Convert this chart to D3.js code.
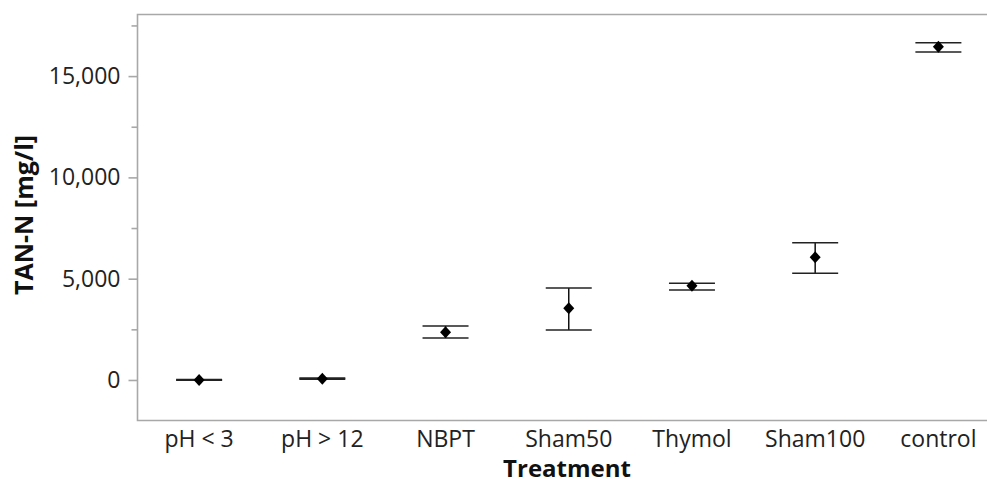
<!DOCTYPE html>
<html>
<head>
<meta charset="utf-8">
<script src="https://cdn.jsdelivr.net/npm/d3@7"></script>
<style>
  html, body { margin: 0; padding: 0; background: #fff; }
  svg { display: block; font-family: "Open Sans", "Noto Sans", sans-serif; }
</style>
</head>
<body>
<svg id="chart" width="987" height="484"></svg>
<script>
// values (TAN-N, mg/l)
const treatments = ['pH < 3', 'pH > 12', 'NBPT', 'Sham50', 'Thymol', 'Sham100', 'control'];
const means = [5, 60, 2354, 3539, 4655, 6056, 16451];
const lower = [-10, 35, 2073, 2468, 4442, 5266, 16190];
const upper = [20, 90, 2665, 4541, 4773, 6777, 16649];
const yTicks = [0, 5000, 10000, 15000];
const yMinorTicks = [2500, 7500, 12500, 17500];

const m = {left: 137.5, top: 14.5, bottom: 420.5, right: 1000};
const svg = d3.select('#chart');

const x = d3.scaleBand().domain(treatments).range([m.left, m.right]).padding(0);
const y = d3.scaleLinear().domain([-2000, 18040]).range([m.bottom, m.top]);

const frame = '#a8a8a8';
const fmt = d3.format(',');

// frame (top, left, bottom; right side is cut off by the picture)
svg.append('path')
  .attr('d', `M${m.right},${m.top}H${m.left}V${m.bottom}H${m.right}`)
  .attr('fill', 'none')
  .attr('stroke', frame)
  .attr('stroke-width', 1.6);

// y axis
const yAxis = svg.append('g').attr('transform', `translate(${m.left},0)`)
  .call(d3.axisLeft(y).tickValues(yTicks).tickFormat(fmt).tickSize(9).tickPadding(8));
yAxis.select('.domain').remove();
yAxis.selectAll('line').attr('stroke', frame).attr('stroke-width', 1.6);
yAxis.selectAll('text').attr('font-size', 23).attr('fill', '#222').attr('font-family', '"Open Sans", sans-serif');

svg.append('g').attr('transform', `translate(${m.left},0)`)
  .call(d3.axisLeft(y).tickValues(yMinorTicks).tickFormat('').tickSize(6))
  .call(g => g.select('.domain').remove())
  .selectAll('line').attr('stroke', frame).attr('stroke-width', 1.6);

// x axis labels
const xAxis = svg.append('g').attr('transform', `translate(0,${m.bottom})`)
  .call(d3.axisBottom(x).tickSize(0).tickPadding(10));
xAxis.select('.domain').remove();
xAxis.selectAll('text').attr('font-size', 23).attr('fill', '#222').attr('font-family', '"Open Sans", sans-serif');

// axis titles
svg.append('text')
  .attr('x', 567).attr('y', 477)
  .attr('text-anchor', 'middle')
  .attr('font-size', 24).attr('font-weight', 'bold').attr('fill', '#111')
  .text('Treatment');

svg.append('text')
  .attr('transform', `translate(33,215) rotate(-90)`)
  .attr('text-anchor', 'middle')
  .attr('font-size', 25).attr('font-weight', 'bold').attr('fill', '#111')
  .text('TAN-N [mg/l]');

// error bars + means
const rows = treatments.map((t, i) => ({t, mean: means[i], lo: lower[i], hi: upper[i]}));
const cx = d => x(d.t) + x.bandwidth() / 2;
const capW = 23;

const g = svg.append('g');
g.selectAll('line.stem').data(rows).join('line')
  .attr('class', 'stem')
  .attr('x1', cx).attr('x2', cx)
  .attr('y1', d => y(d.hi)).attr('y2', d => y(d.lo))
  .attr('stroke', '#111').attr('stroke-width', 1.5);

['lo', 'hi'].forEach(k => {
  g.selectAll(`line.cap-${k}`).data(rows).join('line')
    .attr('class', `cap-${k}`)
    .attr('x1', d => cx(d) - capW).attr('x2', d => cx(d) + capW)
    .attr('y1', d => y(d[k])).attr('y2', d => y(d[k]))
    .attr('stroke', '#222').attr('stroke-width', 1.6);
});

g.selectAll('path.mean').data(rows).join('path')
  .attr('class', 'mean')
  .attr('transform', d => `translate(${cx(d)},${y(d.mean)})`)
  .attr('d', 'M0,-6L5.5,0L0,6L-5.5,0Z')
  .attr('fill', '#000');
</script>
</body>
</html>
